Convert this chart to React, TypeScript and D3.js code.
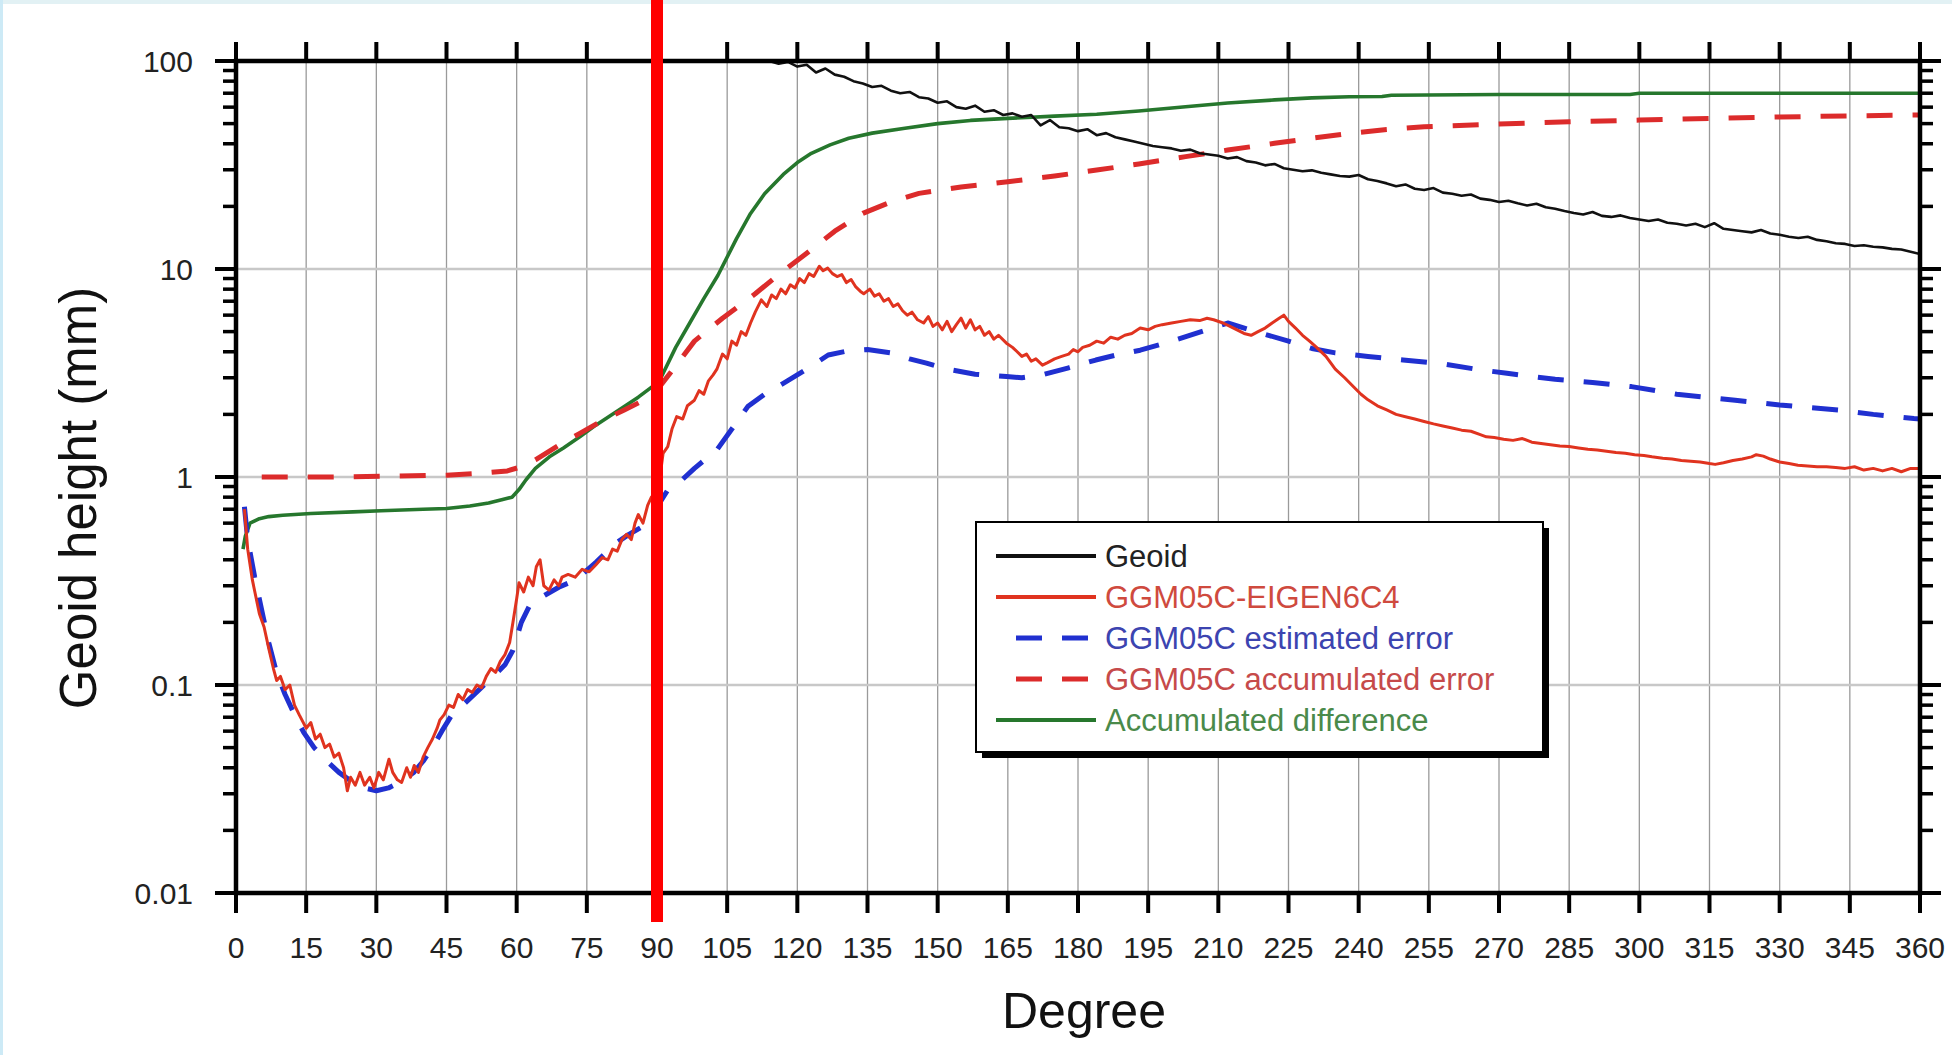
import React from "react";
import * as d3 from "d3";

// ---------- data (degree, mm) ----------
const xTicks = d3.range(0, 361, 15);
const yMajor = [0.01, 0.1, 1, 10, 100];
const yMajorLabels = ["0.01", "0.1", "1", "10", "100"];

const geoid: [number, number][] = [
  [100,130],[104,122],[108,112],[111,104],[114,100],[116,97],[118,99],[120,94],[122,96],[124,88],[126,92],[128,86],[130,84],[132,80],[134,78],[136,75],[138,76],[140,72],[142,70],[144,71],[146,67],[148,66],[150,63],[152,64],[154,60],[156,59],[158,61],[160,57],[162,58],[164,55],[166,56],[168,54],[170,55],[172,49],[174,52],[176,48],[178,47.5],[180,46],[182,47],[184,44],[186,45],[188,43],[190,42],[192,41],[194,40],[196,39],[198,38.5],[200,38],[202,37],[204,37.5],[206,36],[208,35.5],[210,35],[212,34],[214,34.5],[216,33],[218,32.5],[220,31.5],[222,32],[224,30.5],[226,30],[228,29.5],[230,29.8],[232,29],[234,28.5],[236,28],[238,27.8],[240,28.3],[242,27],[244,26.5],[246,25.8],[248,25],[250,25.5],[252,24.3],[254,24],[256,24.5],[258,23.3],[260,23],[262,22.5],[264,22.8],[266,21.8],[268,21.5],[270,21],[272,21.3],[274,20.7],[276,20.2],[278,20.6],[280,19.8],[282,19.5],[284,19],[286,18.6],[288,18.3],[290,18.8],[292,18],[294,17.8],[296,18.1],[298,17.6],[300,17.3],[302,17],[304,17.3],[306,16.7],[308,16.5],[310,16.2],[312,16.5],[314,15.9],[316,16.6],[318,15.6],[320,15.4],[322,15.2],[324,15.0],[326,15.4],[328,14.8],[330,14.6],[332,14.3],[334,14.1],[336,14.3],[338,13.8],[340,13.6],[342,13.3],[344,13.2],[346,12.9],[348,13.0],[350,12.8],[352,12.7],[354,12.5],[356,12.4],[358,12.1],[360,11.8]
];

const diffModels: [number, number][] = [
  [1.8,0.7],[2.5,0.45],[3.5,0.32],[5,0.22],[6,0.19],[7,0.15],[8,0.12],[8.7,0.105],[9.5,0.11],[10.5,0.095],[11.5,0.1],[12.5,0.08],[13.5,0.072],[15,0.062],[16,0.066],[17,0.055],[18,0.058],[19,0.05],[20,0.052],[21,0.045],[22,0.047],[23,0.04],[23.8,0.031],[24.5,0.036],[25.5,0.033],[26.5,0.038],[27.5,0.033],[28.6,0.036],[29.5,0.032],[30.5,0.038],[31.5,0.035],[32.7,0.044],[33.5,0.038],[34.5,0.035],[35.4,0.034],[36.5,0.04],[37.3,0.036],[38.1,0.041],[39,0.038],[40,0.045],[41,0.05],[42,0.055],[43,0.062],[43.6,0.068],[44.5,0.072],[45.5,0.08],[46.5,0.078],[47.5,0.09],[48.5,0.085],[49.5,0.095],[50.5,0.092],[51.5,0.1],[52.5,0.097],[53.5,0.11],[54.5,0.12],[55.5,0.115],[56.5,0.13],[57.5,0.14],[58.5,0.16],[59.2,0.2],[60,0.26],[60.5,0.31],[61.5,0.28],[62.5,0.33],[63.5,0.3],[64.2,0.37],[65,0.4],[65.8,0.3],[66.9,0.286],[68,0.32],[69,0.3],[69.7,0.33],[71,0.34],[72.5,0.33],[74,0.36],[75.5,0.35],[77,0.38],[78.3,0.41],[79.5,0.4],[80.5,0.45],[81.5,0.44],[82.5,0.5],[83.5,0.53],[84.5,0.5],[85.3,0.6],[86,0.66],[87,0.6],[88,0.73],[88.8,0.8],[89.5,0.77],[90.5,0.95],[91.3,1.3],[92.3,1.4],[93.2,1.7],[94.2,1.95],[95.5,1.9],[96.5,2.2],[98,2.34],[99,2.6],[100,2.5],[101,2.9],[102,3.1],[102.8,3.3],[104,3.9],[105,3.7],[106,4.5],[107,4.3],[108,5.0],[109,4.8],[110,5.5],[111,6.2],[112.3,7.1],[113.5,6.6],[114.5,7.5],[115.5,7.2],[116.5,8.0],[117.5,7.6],[118.5,8.4],[119.5,8.1],[120.5,9.0],[121.5,8.6],[122.5,9.5],[123.5,9.2],[124.7,10.3],[125.5,9.8],[126.5,10.1],[127.5,9.5],[128.5,9.2],[129.5,9.4],[130.5,8.6],[131.5,8.9],[132.5,8.2],[133.5,7.8],[134.2,7.6],[135.5,8.0],[136.5,7.4],[137.5,7.6],[138.5,7.0],[139.5,7.2],[140.5,6.6],[141.5,6.8],[142.5,6.3],[143.5,6.0],[144.5,6.2],[145.7,5.7],[147,5.5],[148,5.9],[149,5.3],[150,5.5],[151,5.1],[152,5.6],[153,5.0],[154,5.4],[155,5.8],[156,5.2],[157,5.7],[158,5.1],[159,5.3],[160,4.8],[161,5.0],[162,4.6],[163,4.8],[164.7,4.4],[166,4.2],[167,4.0],[168,3.8],[169,3.9],[170,3.6],[171,3.7],[172.4,3.45],[173.5,3.55],[175,3.7],[176.5,3.8],[178,3.9],[179,4.1],[180,4.0],[181,4.2],[182.5,4.3],[184,4.5],[185.5,4.4],[187,4.7],[188.5,4.6],[190,4.8],[191.5,4.9],[193.3,5.2],[195,5.1],[196.5,5.3],[198,5.4],[200,5.5],[202,5.6],[204,5.7],[206,5.65],[207.6,5.8],[209,5.7],[211,5.5],[212.5,5.3],[214,5.1],[215.5,4.9],[217,4.8],[218.5,5.0],[220,5.2],[221.5,5.5],[223,5.8],[224,6.0],[225,5.6],[226.5,5.2],[228,4.8],[229.5,4.5],[231,4.2],[233,3.8],[235,3.3],[237,3.0],[239,2.7],[240.5,2.5],[242,2.35],[244,2.2],[246,2.1],[248,2.0],[250,1.95],[252,1.9],[254,1.85],[256,1.8],[258,1.76],[260,1.72],[262,1.68],[264,1.66],[266,1.6],[267.3,1.56],[269,1.55],[271,1.52],[273,1.5],[275,1.53],[277,1.47],[279,1.45],[281,1.43],[283,1.41],[285,1.4],[287,1.38],[289,1.36],[291,1.35],[293,1.33],[295,1.31],[297,1.3],[299,1.28],[301,1.27],[302.7,1.25],[305,1.23],[307,1.22],[309,1.2],[311,1.19],[313,1.18],[315,1.16],[316.2,1.15],[318,1.17],[320,1.2],[322,1.22],[324,1.25],[325,1.28],[326.5,1.26],[328,1.22],[330,1.18],[332,1.16],[333.9,1.14],[336,1.13],[338,1.12],[340,1.12],[342,1.11],[344,1.1],[346,1.12],[348,1.08],[350,1.1],[352,1.07],[354,1.1],[356,1.06],[358,1.1],[360,1.1]
];

const estError: [number, number][] = [
  [1.8,0.72],[2.5,0.5],[4,0.33],[5.8,0.213],[7,0.16],[8.7,0.114],[10.5,0.09],[12.7,0.0705],[14.5,0.059],[16.7,0.05],[19,0.044],[22,0.038],[25,0.034],[27.5,0.032],[30,0.031],[32.6,0.032],[35,0.034],[38,0.038],[40,0.043],[42,0.05],[44,0.06],[46,0.071],[49,0.082],[52,0.095],[55,0.11],[57.5,0.125],[59.2,0.147],[61,0.2],[63,0.247],[66,0.27],[69,0.295],[72.6,0.32],[77,0.39],[81.2,0.48],[84,0.53],[86.9,0.577],[89,0.66],[92.3,0.866],[94.5,0.93],[98,1.1],[102.8,1.35],[106,1.7],[109.4,2.18],[113,2.5],[117,2.82],[122,3.3],[126.6,3.86],[131,4.05],[135,4.1],[140,3.95],[144,3.7],[147.6,3.53],[152,3.3],[158,3.12],[164.7,3.04],[168,3.0],[172.4,3.1],[178,3.35],[183.8,3.65],[188,3.85],[193.3,4.07],[200,4.5],[207.6,5.1],[212,5.5],[218,5.0],[225,4.5],[230,4.15],[235,3.95],[242,3.8],[249.5,3.65],[258,3.5],[265,3.3],[271.7,3.15],[282,2.95],[290,2.85],[298.3,2.72],[308,2.5],[320.5,2.34],[330,2.22],[342.7,2.1],[350,2.0],[358.7,1.91],[360,1.9]
];

const accError: [number, number][] = [
  [5.5,1.0],[20,1.0],[35,1.01],[45,1.02],[52,1.04],[58,1.07],[61,1.12],[64,1.21],[69,1.42],[73.5,1.62],[78,1.85],[83,2.1],[89,2.45],[93,3.2],[98,4.5],[104,5.8],[111,7.6],[116,9.4],[122,11.9],[128,15.2],[134,18.5],[140,21],[146,23.1],[155,24.8],[165,26.3],[175,28],[184,29.9],[193,32],[203,34.7],[212,37.3],[222,40.2],[230,42.5],[238,44.9],[246,46.8],[254,48.3],[270,49.8],[285,51],[300,52],[316,53],[330,53.8],[345,54.5],[360,55]
];

const accDiff: [number, number][] = [
  [1.5,0.45],[2,0.52],[3,0.6],[5,0.63],[7,0.645],[10,0.655],[16,0.668],[25,0.68],[31,0.688],[40,0.7],[45,0.706],[50,0.725],[54,0.75],[57,0.78],[59,0.8],[60.5,0.87],[62,0.97],[64,1.1],[67,1.25],[70,1.38],[73.5,1.56],[77,1.78],[80,1.97],[83,2.18],[86,2.42],[89,2.72],[91,3.05],[94,4.2],[97,5.5],[100,7.2],[103,9.3],[107,14],[110,18.5],[113,23],[117,28.5],[120,32.5],[123,36],[127,39.5],[131,42.5],[136,45],[143,47.5],[150,50],[157,51.8],[165,53],[175,54.3],[184,55.5],[193,57.5],[203,60.3],[212,62.8],[222,65],[230,66.5],[238,67.3],[245,67.5],[247,68.5],[270,69],[298,69],[300,70],[360,70]
];

const legendLabels = [
  "Geoid",
  "GGM05C-EIGEN6C4",
  "GGM05C estimated error",
  "GGM05C accumulated error",
  "Accumulated difference",
];

// ---------- layout ----------
const W = 1952, H = 1055;
const X0 = 236, X1 = 1920, Y0 = 61, Y1 = 893;
const FONT = "'Liberation Sans', Arial, Helvetica, sans-serif";

export default function App() {
  const x = d3.scaleLinear().domain([0, 360]).range([X0, X1]);
  const y = d3.scaleLog().domain([0.01, 100]).range([Y1, Y0]);
  const line = d3.line<[number, number]>().x(d => x(d[0])).y(d => y(d[1]));

  const minors: number[] = [];
  [0.01, 0.1, 1, 10].forEach(dec => { for (let k = 2; k <= 9; k++) minors.push(dec * k); });

  const series = [
    { data: geoid, stroke: "#111111", width: 2.6, dash: undefined as string | undefined, text: "#222222" },
    { data: diffModels, stroke: "#e0331f", width: 3, dash: undefined, text: "#cf4a3e" },
    { data: estError, stroke: "#2030d0", width: 5, dash: "26,20", text: "#3c44b0" },
    { data: accError, stroke: "#dc2b2b", width: 5, dash: "26,20", text: "#c64a4a" },
    { data: accDiff, stroke: "#26772d", width: 3.6, dash: undefined, text: "#4a8a4a" },
  ];
  const drawOrder = [4, 3, 2, 1, 0];

  const LX0 = 976, LX1 = 1543, LY0 = 522, LY1 = 752;
  const rowY = [556, 597, 638, 679, 720];

  return (
    <svg width={W} height={H} style={{ position: "absolute", left: 0, top: 0, background: "#fff" }} fontFamily={FONT}>
      <rect x={0} y={0} width={W} height={H} fill="#ffffff" />
      <rect x={0} y={0} width={W} height={4} fill="#e2f1f4" />
      <rect x={0} y={0} width={3} height={H} fill="#cdeaf6" />
      <defs>
        <clipPath id="plot">
          <rect x={X0} y={Y0} width={X1 - X0} height={Y1 - Y0} />
        </clipPath>
      </defs>

      {/* grid */}
      {xTicks.map(t => (
        <line key={"gx" + t} x1={x(t)} x2={x(t)} y1={Y0} y2={Y1} stroke="#9a9a9a" strokeWidth={1.3} />
      ))}
      {yMajor.slice(1, -1).map(t => (
        <line key={"gy" + t} x1={X0} x2={X1} y1={y(t)} y2={y(t)} stroke="#c8c8c8" strokeWidth={2.6} />
      ))}

      {/* series */}
      <g clipPath="url(#plot)">
        {drawOrder.map(i => {
          const s = series[i];
          return (
            <path key={"s" + i} d={line(s.data) || ""} fill="none" stroke={s.stroke}
              strokeWidth={s.width} strokeDasharray={s.dash} strokeLinejoin="round" />
          );
        })}
      </g>

      {/* frame & ticks */}
      <g stroke="#000">
        <rect x={X0} y={Y0} width={X1 - X0} height={Y1 - Y0} fill="none" strokeWidth={4.5} />
        {xTicks.map(t => (
          <g key={"tx" + t}>
            <line x1={x(t)} x2={x(t)} y1={Y1} y2={Y1 + 20} strokeWidth={4} />
            <line x1={x(t)} x2={x(t)} y1={Y0} y2={Y0 - 19} strokeWidth={4} />
          </g>
        ))}
        {yMajor.map(t => (
          <g key={"ty" + t}>
            <line x1={X0} x2={X0 - 21} y1={y(t)} y2={y(t)} strokeWidth={4} />
            <line x1={X1} x2={X1 + 21} y1={y(t)} y2={y(t)} strokeWidth={4} />
          </g>
        ))}
        {minors.map(t => (
          <g key={"tm" + t}>
            <line x1={X0} x2={X0 - 13} y1={y(t)} y2={y(t)} strokeWidth={3.5} />
            <line x1={X1} x2={X1 + 13} y1={y(t)} y2={y(t)} strokeWidth={3.5} />
          </g>
        ))}
      </g>

      {/* tick labels */}
      {xTicks.map(t => (
        <text key={"lx" + t} x={x(t)} y={958} fontSize={30} textAnchor="middle" fill="#222">{t}</text>
      ))}
      {yMajor.map((t, i) => (
        <text key={"ly" + t} x={193} y={y(t) + 11} fontSize={30} textAnchor="end" fill="#222">{yMajorLabels[i]}</text>
      ))}

      {/* axis titles */}
      <text x={1084} y={1028} fontSize={50} textAnchor="middle" fill="#111">Degree</text>
      <text transform="translate(96,498) rotate(-90)" fontSize={51} textAnchor="middle" fill="#111">Geoid height (mm)</text>

      {/* legend */}
      <rect x={LX0 + 6} y={LY0 + 6} width={LX1 - LX0} height={LY1 - LY0} fill="#000" />
      <rect x={LX0} y={LY0} width={LX1 - LX0} height={LY1 - LY0} fill="#fff" stroke="#000" strokeWidth={2} />
      {series.map((s, i) => (
        <g key={"lg" + i}>
          <line x1={s.dash ? 1016 : 996} x2={1096} y1={rowY[i]} y2={rowY[i]} stroke={s.stroke}
            strokeWidth={s.dash ? 5 : 4} strokeDasharray={s.dash} />
          <text x={1105} y={rowY[i] + 11} fontSize={31} fill={s.text}>{legendLabels[i]}</text>
        </g>
      ))}

      {/* red marker at degree 90 */}
      <line x1={x(90)} x2={x(90)} y1={0} y2={922} stroke="#ff0000" strokeWidth={12} />
    </svg>
  );
}
